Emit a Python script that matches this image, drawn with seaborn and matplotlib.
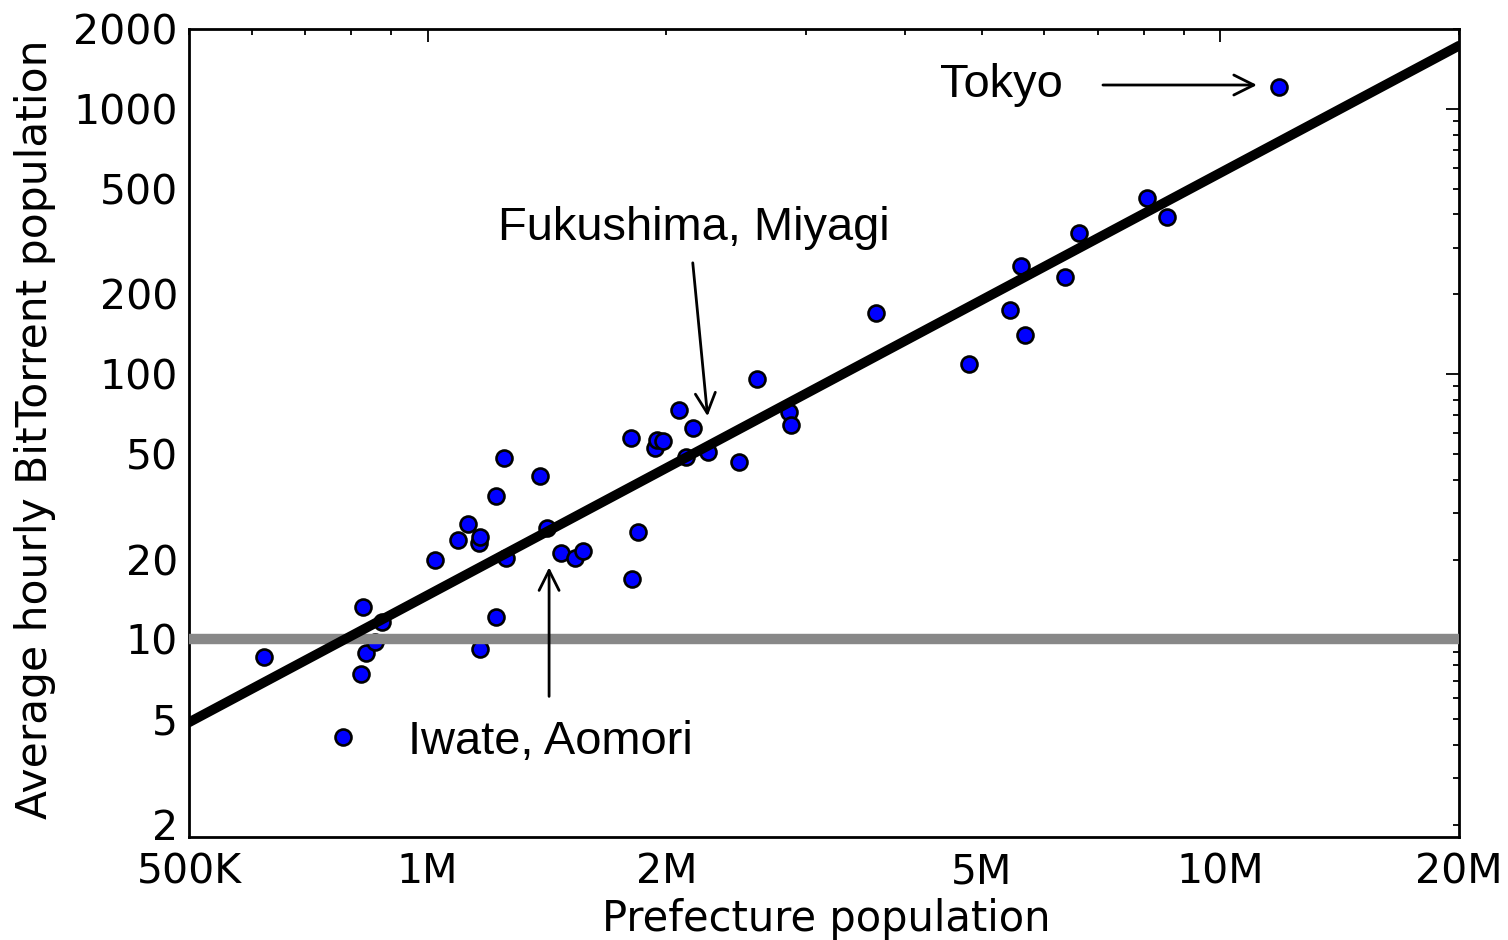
import numpy as np
import pandas as pd
import matplotlib
matplotlib.use("Agg")
import matplotlib.pyplot as plt
import matplotlib.ticker as mticker
import seaborn as sns

# ---------------- data ----------------
prefecture_pop = [622e3, 782e3, 824e3, 829e3, 836e3, 859e3, 876e3,
                  1.021e6, 1.092e6, 1.124e6, 1.161e6, 1.164e6, 1.164e6,
                  1.22e6, 1.22e6, 1.248e6, 1.256e6, 1.386e6, 1.414e6,
                  1.473e6, 1.534e6, 1.57e6, 1.806e6, 1.81e6, 1.843e6,
                  1.936e6, 1.947e6, 1.98e6, 2.076e6, 2.118e6, 2.161e6,
                  2.258e6, 2.47e6, 2.60e6, 2.857e6, 2.87e6, 3.68e6,
                  4.82e6, 5.43e6, 5.6e6, 5.67e6, 6.37e6, 6.64e6,
                  8.08e6, 8.57e6, 11.86e6]
bittorrent_pop = [8.6, 4.27, 7.44, 13.2, 8.9, 9.8, 11.6,
                  20.0, 23.8, 27.3, 23.0, 24.4, 9.2,
                  34.8, 12.2, 48.4, 20.3, 41.4, 26.2,
                  21.1, 20.2, 21.6, 57.6, 16.9, 25.5,
                  52.8, 56.6, 56.2, 73.5, 48.9, 62.8,
                  51.0, 46.8, 96.0, 72.3, 64.5, 170,
                  109, 175, 256, 140, 233, 341,
                  462, 391, 1209]

fit_x = [5e5, 2e7]          # power-law fit, drawn across the full range
fit_y = [4.87, 1730]
threshold = 10

x_tick_labels = {5e5: "500K", 1e6: "1M", 2e6: "2M", 5e6: "5M",
                 1e7: "10M", 2e7: "20M"}
y_tick_values = [2, 5, 10, 20, 50, 100, 200, 500, 1000, 2000]

xlim = (5e5, 2e7)
ylim = (1.8, 2000)

df = pd.DataFrame({"pref": prefecture_pop, "bt": bittorrent_pop})
fit_df = pd.DataFrame({"x": fit_x, "y": fit_y})

# ---------------- style ----------------
sns.set_style("white")
plt.rcParams["font.family"] = ["DejaVu Sans"]
plt.rcParams["axes.linewidth"] = 2.0
plt.rcParams["text.color"] = "black"
plt.rcParams["axes.labelcolor"] = "black"
plt.rcParams["xtick.color"] = "black"
plt.rcParams["ytick.color"] = "black"

W, H = 1508, 940
fig = plt.figure(figsize=(W / 100, H / 100), dpi=100)
L, R, T, B = 189, 1459, 29, 837
ax = fig.add_axes([L / W, 1 - B / H, (R - L) / W, (B - T) / H])
ax.set_xscale("log")
ax.set_yscale("log")

sns.scatterplot(data=df, x="pref", y="bt", ax=ax, s=132, color="#0000ff",
                edgecolor="black", linewidth=1.9, zorder=2, legend=False)
ax.axhline(threshold, color="#888888", linewidth=7.5, zorder=3)
sns.lineplot(data=fit_df, x="x", y="y", ax=ax, color="black",
             linewidth=7, zorder=4, legend=False)

ax.set_xlim(*xlim)
ax.set_ylim(*ylim)

# ticks
ax.xaxis.set_major_locator(mticker.LogLocator(base=10, numticks=20))
ax.xaxis.set_minor_locator(mticker.LogLocator(base=10, subs=np.arange(2, 10), numticks=50))
ax.yaxis.set_major_locator(mticker.LogLocator(base=10, numticks=20))
ax.yaxis.set_minor_locator(mticker.LogLocator(base=10, subs=np.arange(2, 10), numticks=50))


def xfmt(v, pos=None):
    for k, lab in x_tick_labels.items():
        if abs(v - k) / k < 1e-6:
            return lab
    return ""


def yfmt(v, pos=None):
    for k in y_tick_values:
        if abs(v - k) / k < 1e-6:
            return f"{k:g}"
    return ""


ax.xaxis.set_major_formatter(mticker.FuncFormatter(xfmt))
ax.xaxis.set_minor_formatter(mticker.FuncFormatter(xfmt))
ax.yaxis.set_major_formatter(mticker.FuncFormatter(yfmt))
ax.yaxis.set_minor_formatter(mticker.FuncFormatter(yfmt))

ax.tick_params(which="both", direction="in", top=True, right=True,
               labelsize=29.5, colors="black", width=1.3)
ax.tick_params(which="major", length=9.5)
ax.tick_params(which="minor", length=4.5)
ax.tick_params(axis="x", which="both", pad=10.8)
ax.tick_params(axis="y", which="both", pad=8)

for s in ax.spines.values():
    s.set_color("black")
    s.set_linewidth(2.0)

ax.set_xlabel("Prefecture population", fontsize=30, va="baseline",
              color="black")
ax.xaxis.set_label_coords((826.5 - L) / (R - L), (B - 930.5) / (B - T))
ax.set_ylabel("Average hourly BitTorrent population", fontsize=30.5,
              va="baseline", color="black")
ax.yaxis.set_label_coords((47 - L) / (R - L), (B - 429) / (B - T))

# ---------------- annotations ----------------
afont = dict(fontsize=33.8, family=["Liberation Sans", "DejaVu Sans"],
             color="black", ha="left", va="baseline")
aprops = dict(arrowstyle="->", lw=2.0, color="black", shrinkA=0, shrinkB=0,
              mutation_scale=36)

ax.text(4.43e6, 1112, "Tokyo", **afont)
ax.annotate("", xy=(11.12e6, 1230), xytext=(7.11e6, 1230), arrowprops=aprops)

ax.text(1.227e6, 321, "Fukushima, Miyagi", **afont)
ax.annotate("", xy=(2.255e6, 69.4), xytext=(2.16e6, 262.8), arrowprops=aprops)

ax.text(0.944e6, 3.685, "Iwate, Aomori", **afont)
ax.annotate("", xy=(1.423e6, 18.7), xytext=(1.423e6, 6.1), arrowprops=aprops)

fig.savefig("out.png", dpi=100)
